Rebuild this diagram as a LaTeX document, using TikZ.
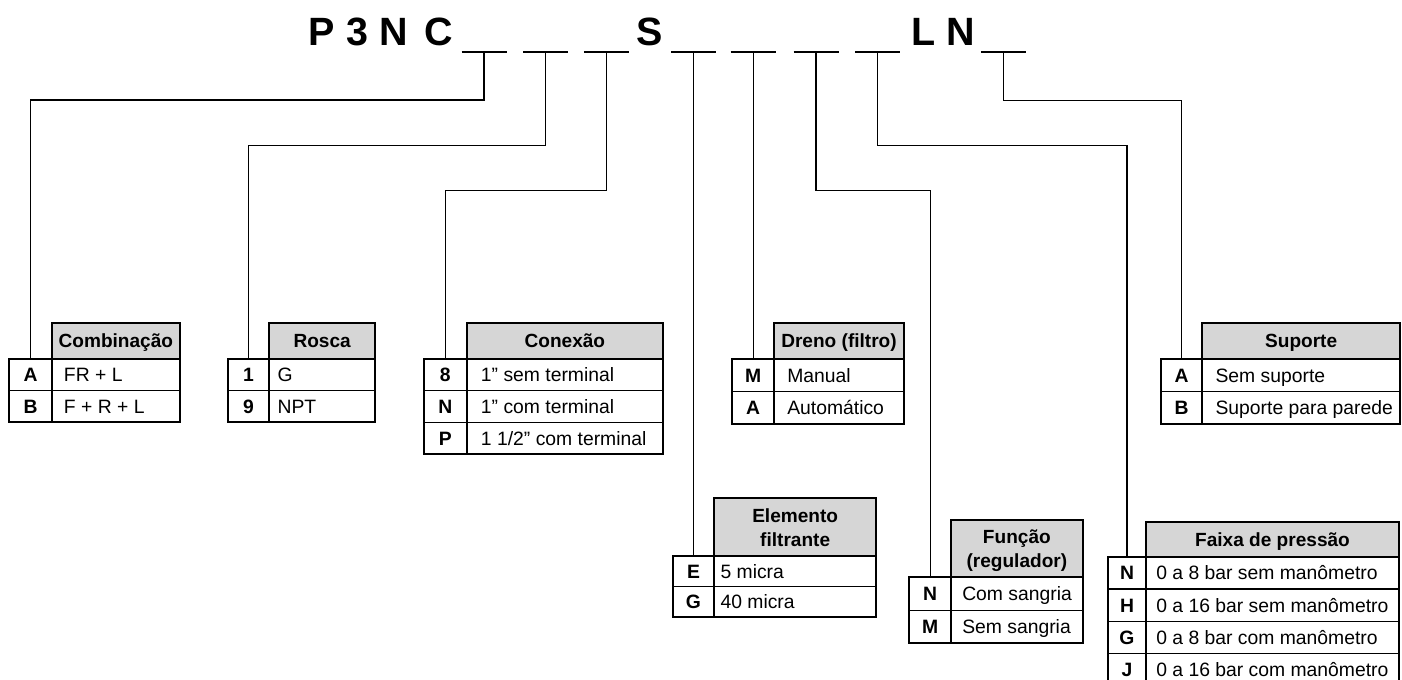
\documentclass[tikz,border=0pt]{standalone}
\usepackage{fontspec}
\setmainfont{Liberation Sans}
\usetikzlibrary{calc}
\definecolor{headgray}{RGB}{214,214,214}
\newcommand\twoline[2]{\raisebox{9pt}{\begin{tabular}[t]{@{}c@{}}#1\\#2\end{tabular}}}
\newcommand\tpad{13}
% #1 name, #2 xl, #3 xd, #4 xr, #5 header top, #6 body top, #7 row height, #8 header, #9 rows
\newcommand\spectab[9]{%
  \fill[headgray] (#3,#5) rectangle (#4,#6);
  \draw[tabframe] (#3,#5) rectangle (#4,#6);
  \node[headtext] (#1-h) at ({(#3+#4)/2},{(#5+#6)/2+6.9}) {#8};
  \coordinate (#1-in) at ({(#2+#3)/2},#6);
  \foreach \k/\v [count=\i] in {#9} {
    \pgfmathsetmacro\rt{#6+(\i-1)*#7}
    \pgfmathsetmacro\bl{\rt+#7/2+6.9}
    \node[keytext] (#1-k\i) at ({(#2+#3)/2},\bl) {\k};
    \node[valtext] (#1-v\i) at ({#3+\tpad},\bl) {\v};
    \ifnum\i>1 \draw[rowline] (#2,\rt) -- (#4,\rt); \fi
    \xdef\lastrow{\i}
  }
  \pgfmathsetmacro\yb{#6+\lastrow*#7}
  \draw[colline] (#3,#6) -- (#3,\yb);
  \draw[tabframe] (#2,#6) rectangle (#4,\yb);
}
\tikzset{
  keytext/.style={font=\fontsize{14.5pt}{18pt}\selectfont\bfseries, anchor=base, inner sep=0pt},
  valtext/.style={font=\fontsize{14.5pt}{18pt}\selectfont, anchor=base west, inner sep=0pt},
  headtext/.style={font=\fontsize{14.3pt}{18pt}\selectfont\bfseries, anchor=base, inner sep=0pt},
  titletext/.style={font=\fontsize{29.6pt}{34pt}\selectfont\bfseries, anchor=base, inner sep=0pt},
  tabframe/.style={draw=black, line width=1.7pt},
  colline/.style={draw=black, line width=1.3pt},
  rowline/.style={draw=black, line width=0.9pt},
  conn/.style={draw=black, line width=0.9pt},
  slot/.style={draw=black, line width=2pt}
}
\begin{document}
\begin{tikzpicture}[x=0.75pt, y=-0.75pt]
\clip (0,0) rectangle (1402,679);
\fill[white] (0,0) rectangle (1402,679);

% title
\node[titletext] (tP) at (321.3,45) {P};
\node[titletext] (t3) at (357.2,45) {3};
\node[titletext] (tN) at (394.2,45) {N};
\node[titletext] (tC) at (439.2,45) {C};
\node[titletext] (tS) at (649.2,45) {S};
\node[titletext] (tL) at (923.5,45) {L};
\node[titletext] (tN2) at (960.5,45) {N};

\foreach \x [count=\i] in {484,545.5,606.3,693.5,753.15,816,877.5,1003.3} {
  \coordinate (b\i) at (\x,52);
  \draw[slot] (\x-22.5,52) -- (\x+22.5,52);
}

% tables
\renewcommand\tpad{12}
\spectab{comb}{9.3}{51.7}{180}{323}{359}{31.5}{Combinação}{A/FR + L,B/F + R + L}
\renewcommand\tpad{8}
\spectab{rosca}{227.7}{269.3}{375}{323}{359}{31.5}{Rosca}{1/G,9/NPT}
\renewcommand\tpad{14}
\spectab{conex}{424}{466.7}{663}{323}{359}{31.7}{Conexão}{8/1” sem terminal,N/1” com terminal,P/{1 1/2” com terminal}}
\renewcommand\tpad{13}
\spectab{dreno}{732.3}{774}{904}{323}{359}{32.5}{Dreno (filtro)}{M/Manual,A/Automático}
\renewcommand\tpad{13}
\spectab{sup}{1160.7}{1202.3}{1400}{323}{359}{32.5}{Suporte}{A/Sem suporte,B/Suporte para parede}
\renewcommand\tpad{6}
\spectab{elem}{672.7}{714.3}{876}{498.3}{556}{30.5}{\twoline{Elemento}{filtrante}}{E/5 micra,G/40 micra}
\renewcommand\tpad{11}
\spectab{func}{909.3}{951}{1082.7}{520}{577.3}{32.8}{\twoline{Função}{(regulador)}}{N/Com sangria,M/Sem sangria}
\renewcommand\tpad{10}
\spectab{faixa}{1108}{1146}{1399}{521.7}{556.7}{32.3}{Faixa de pressão}{N/0 a 8 bar sem manômetro,H/0 a 16 bar sem manômetro,G/0 a 8 bar com manômetro,J/0 a 16 bar com manômetro}

% connectors
\draw[conn] (b1) -- ++(0,48) -| (comb-in);
\draw[conn] (b2) -- ++(0,93.7) -| (rosca-in);
\draw[conn] (b3) -- ++(0,138.7) -| (conex-in);
\draw[conn] (b4) -- (b4 |- elem-in);
\draw[conn] (b5) -- (b5 |- dreno-in);
\draw[conn] (b6) -- ++(0,138.3) -| (func-in);
\draw[conn] (b7) -- ++(0,93.7) -| (faixa-in);
\draw[conn] (b8) -- ++(0,48.3) -| (sup-in);
\end{tikzpicture}
\end{document}
